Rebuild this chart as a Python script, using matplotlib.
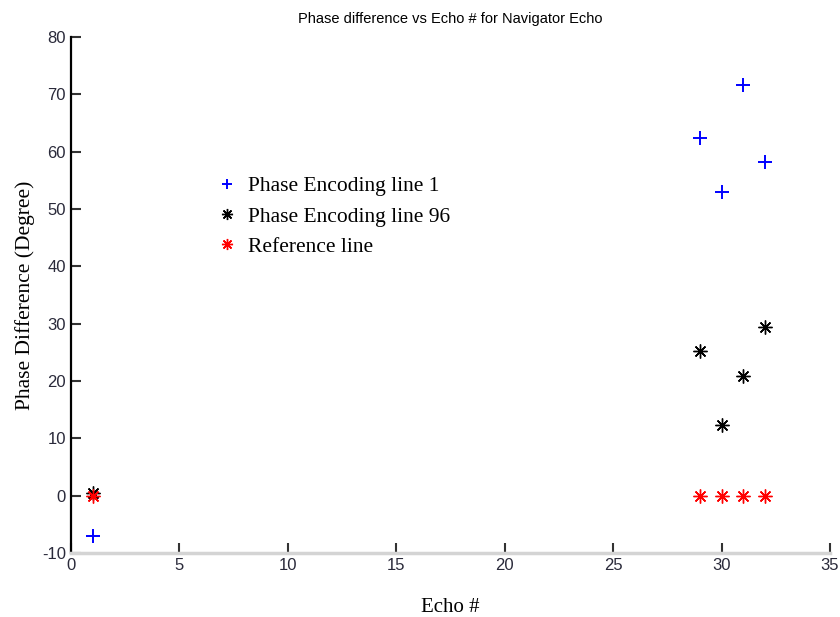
import numpy as np
import matplotlib.pyplot as plt

plt.rcParams["axes.unicode_minus"] = False

# data
echo = [1, 29, 30, 31, 32]
pe_line1 = [-7, 62.3, 53, 71.7, 58.2]
pe_line96 = [0.5, 25.3, 12.3, 20.8, 29.5]
ref_line = [0, 0, 0, 0, 0]

xticks = [0, 5, 10, 15, 20, 25, 30, 35]
yticks = [-10, 0, 10, 20, 30, 40, 50, 60, 70, 80]

asterisk = (8, 2, 0)

fig = plt.figure(figsize=(8.4, 6.17), dpi=100)
ax = fig.add_axes([0.0845, 0.1037, 0.9035, 0.8363])

ax.plot(echo, pe_line1, linestyle="none", marker="+", color="blue",
        markersize=9.5, markeredgewidth=1.4, label="Phase Encoding line 1")
ax.plot(echo, pe_line96, linestyle="none", marker=asterisk, color="black",
        markersize=10, markeredgewidth=1.0, label="Phase Encoding line 96")
ax.plot(echo, ref_line, linestyle="none", marker=asterisk, color="red",
        markersize=10, markeredgewidth=1.0, label="Reference line")

ax.set_xlim(0, 35)
ax.set_ylim(-10, 80)
ax.set_xticks(xticks)
ax.set_yticks(yticks)

for s in ["top", "right"]:
    ax.spines[s].set_visible(False)
ax.spines["left"].set_color("black")
ax.spines["left"].set_linewidth(1.6)
ax.spines["bottom"].set_color("#d4d4d4")
ax.spines["bottom"].set_linewidth(2.5)

ax.tick_params(axis="both", direction="in", labelsize=12, labelcolor="#2a2a3a",
               length=7, width=1.5, color="#333333")
for lab in ax.get_xticklabels() + ax.get_yticklabels():
    lab.set_family("Liberation Sans")

ax.set_title("Phase difference vs Echo # for Navigator Echo",
             fontsize=10.5, family="Liberation Sans", pad=10)
ax.set_xlabel("Echo #", fontsize=15, family="Liberation Serif", labelpad=18)
ax.set_ylabel("Phase Difference (Degree)", fontsize=15.5, family="Liberation Serif",
              labelpad=5)

ax.legend(loc="center left", bbox_to_anchor=(0.166, 0.652), frameon=False,
          prop={"family": "Liberation Serif", "size": 15.5}, handlelength=1.0,
          handletextpad=0.45, labelspacing=0.47, markerscale=0.8)

fig.savefig("out.png", dpi=100, facecolor="white")
